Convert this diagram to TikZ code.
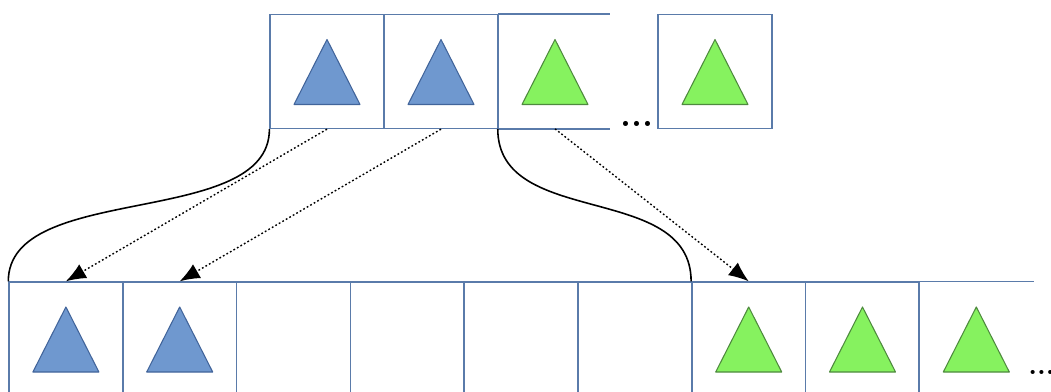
\documentclass[tikz,border=0pt]{standalone}
\usetikzlibrary{arrows.meta}
\definecolor{cellblue}{HTML}{5A7BAA}
\definecolor{triblue}{HTML}{6F98CF}
\definecolor{triblueline}{HTML}{41649A}
\definecolor{trigreen}{HTML}{86F25F}
\definecolor{trigreenline}{HTML}{4E8A3E}
\tikzset{
  cell/.style={draw=cellblue, line width=0.8pt, minimum width=2.276cm, minimum height=2.28cm, inner sep=0pt},
  opencell/.style={minimum width=2.276cm, minimum height=2.28cm, inner sep=0pt},
  edge/.style={draw=cellblue, line width=0.8pt},
  bluetri/.style={fill=triblue, draw=triblueline, line width=0.6pt, line join=round},
  greentri/.style={fill=trigreen, draw=trigreenline, line width=0.6pt, line join=round},
  link/.style={black, line width=0.9pt},
  copyarrow/.style={black, line width=0.8pt, dash pattern=on 1pt off 1.3pt, -{Latex[length=4mm,width=3.2mm]}},
  dots/.style={font=\bfseries\fontsize{20}{20}\selectfont, inner sep=0pt},
}

\begin{document}
\begin{tikzpicture}[x=0.02cm, y=-0.02cm]
\useasboundingbox (0,0) rectangle (1051,392);
% upper row
\node[cell] (t1) at (327,71.5) {};
\node[cell] (t2) at (441,71.5) {};
\node[opencell] (t3) at (555,71.5) {};
\draw[edge] (t3.north west) -- ++(112,0);
\draw[edge] (t3.south west) -- ++(112,0);
\node[dots, anchor=base west] (tdots) at (620,126) {...};
\node[cell] (t4) at (715,71.5) {};
% lower row
\node[cell] (b1) at (65.9,339) {};
\node[cell] (b2) at (179.7,339) {};
\node[cell] (b3) at (293.5,339) {};
\node[cell] (b4) at (407.3,339) {};
\node[cell] (b5) at (521.1,339) {};
\node[cell] (b6) at (634.9,339) {};
\node[cell] (b7) at (748.7,339) {};
\node[cell] (b8) at (862.5,339) {};
\node[opencell] (b9) at (976.3,339) {};
\draw[edge] (b9.north west) -- (b9.north east);
\draw[edge] (b9.north west) -- (b9.south west);
\node[dots, font=\bfseries\fontsize{16}{16}\selectfont, anchor=base west] (bdots) at (1028,374) {...};
% triangles
\draw[bluetri] (t1.center) ++(0,-32) -- ++(33,65) -- ++(-66,0) -- cycle;
\draw[bluetri] (t2.center) ++(0,-32) -- ++(33,65) -- ++(-66,0) -- cycle;
\draw[greentri] (t3.center) ++(0,-32) -- ++(33,65) -- ++(-66,0) -- cycle;
\draw[greentri] (t4.center) ++(0,-32) -- ++(33,65) -- ++(-66,0) -- cycle;
\draw[bluetri] (b1.center) ++(0,-32) -- ++(33,65) -- ++(-66,0) -- cycle;
\draw[bluetri] (b2.center) ++(0,-32) -- ++(33,65) -- ++(-66,0) -- cycle;
\draw[greentri] (b7.center) ++(0,-32) -- ++(33,65) -- ++(-66,0) -- cycle;
\draw[greentri] (b8.center) ++(0,-32) -- ++(33,65) -- ++(-66,0) -- cycle;
\draw[greentri] (b9.center) ++(0,-32) -- ++(33,65) -- ++(-66,0) -- cycle;
% links between the rows
\draw[link] (t1.south west) .. controls +(0,100) and +(0,-100) .. (b1.north west);
\draw[link] (t3.south west) .. controls +(0,100) and +(0,-100) .. (b7.north west);
\draw[copyarrow] (t1.south) -- (b1.north);
\draw[copyarrow] (t2.south) -- (b2.north);
\draw[copyarrow] (t3.south) -- (b7.north);
\end{tikzpicture}
\end{document}
